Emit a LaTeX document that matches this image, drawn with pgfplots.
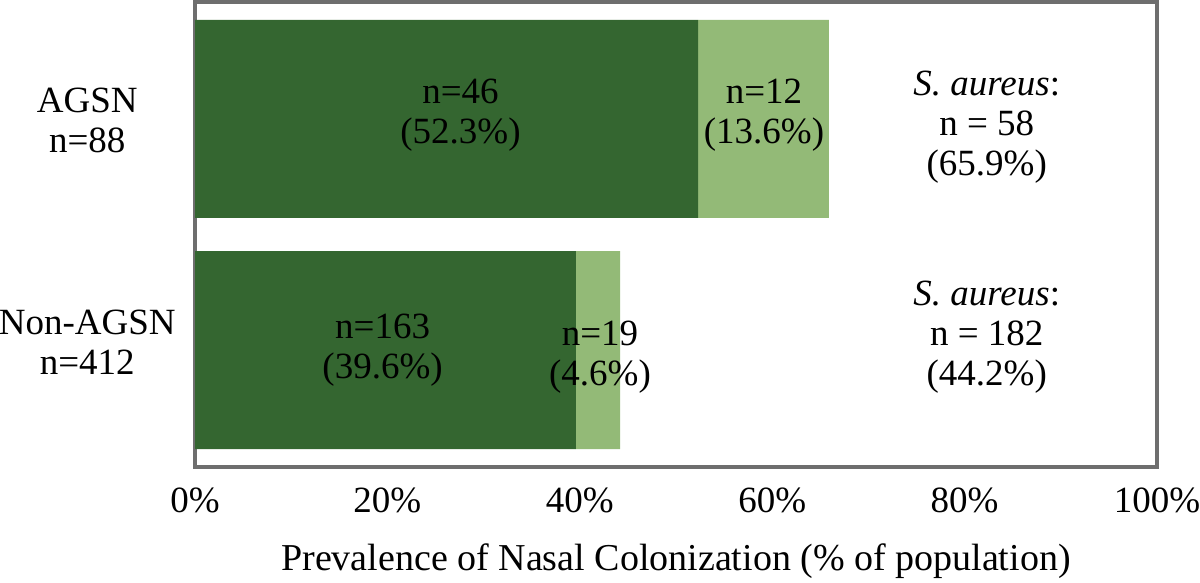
\documentclass[border=0pt]{standalone}
\usepackage{pgfplots}
\pgfplotsset{compat=1.18}
\usepackage{fontspec}
\setmainfont{Liberation Serif}
\definecolor{dkg}{HTML}{346630}
\definecolor{ltg}{HTML}{93BA77}
\definecolor{frm}{HTML}{6E6E6E}
\tikzset{lab/.style={font=\fontsize{18.5}{20}\selectfont, align=center, inner sep=0pt}}
\begin{document}
\begin{tikzpicture}
\useasboundingbox (-97.5pt,-58pt) rectangle (502.5pt,233.5pt);
\begin{axis}[
  at={(0pt,0pt)}, anchor=south west,
  scale only axis, width=481pt, height=232.5pt,
  xmin=0, xmax=100, ymin=-0.506, ymax=1.506,
  xbar stacked, bar width=0.857,
  clip=false,
  axis line style={frm, line width=2pt},
  xtick={0,20,40,60,80,100},
  xticklabels={0\%,20\%,40\%,60\%,80\%,100\%},
  ytick=\empty,
  major tick length=0pt,
  tick label style={font=\fontsize{18.5}{20}\selectfont},
  xticklabel style={anchor=center, yshift=-16.5pt},
  xlabel={Prevalence of Nasal Colonization (\% of population)},
  xlabel style={font=\fontsize{19}{20}\selectfont, at={(axis description cs:0.5,0)}, anchor=center, yshift=-47pt},
]
\addplot[fill=dkg, draw=none] coordinates {(52.3,1) (39.6,0)};
\addplot[fill=ltg, draw=none] coordinates {(13.6,1) (4.6,0)};
\coordinate (a1) at (axis cs:27.6,1.017);
\coordinate (a2) at (axis cs:59.15,1.017);
\coordinate (b1) at (axis cs:19.5,0);
\coordinate (b2) at (axis cs:42.1,-0.03);
\coordinate (ra) at (axis cs:82.3,0.965);
\coordinate (rb) at (axis cs:82.3,0.056);
\coordinate (la) at (axis cs:-11.2,0.995);
\coordinate (lb) at (axis cs:-11.2,0.035);
\end{axis}
\node[lab] at (a1) {n=46\\(52.3\%)};
\node[lab] at (a2) {n=12\\(13.6\%)};
\node[lab] at (b1) {n=163\\(39.6\%)};
\node[lab] at (b2) {n=19\\(4.6\%)};
\node[lab] at (ra) {\textit{S. aureus}:\\n = 58\\(65.9\%)};
\node[lab] at (rb) {\textit{S. aureus}:\\n = 182\\(44.2\%)};
\node[lab] at (la) {AGSN\\n=88};
\node[lab] at (lb) {Non-AGSN\\n=412};
\end{tikzpicture}
\end{document}
